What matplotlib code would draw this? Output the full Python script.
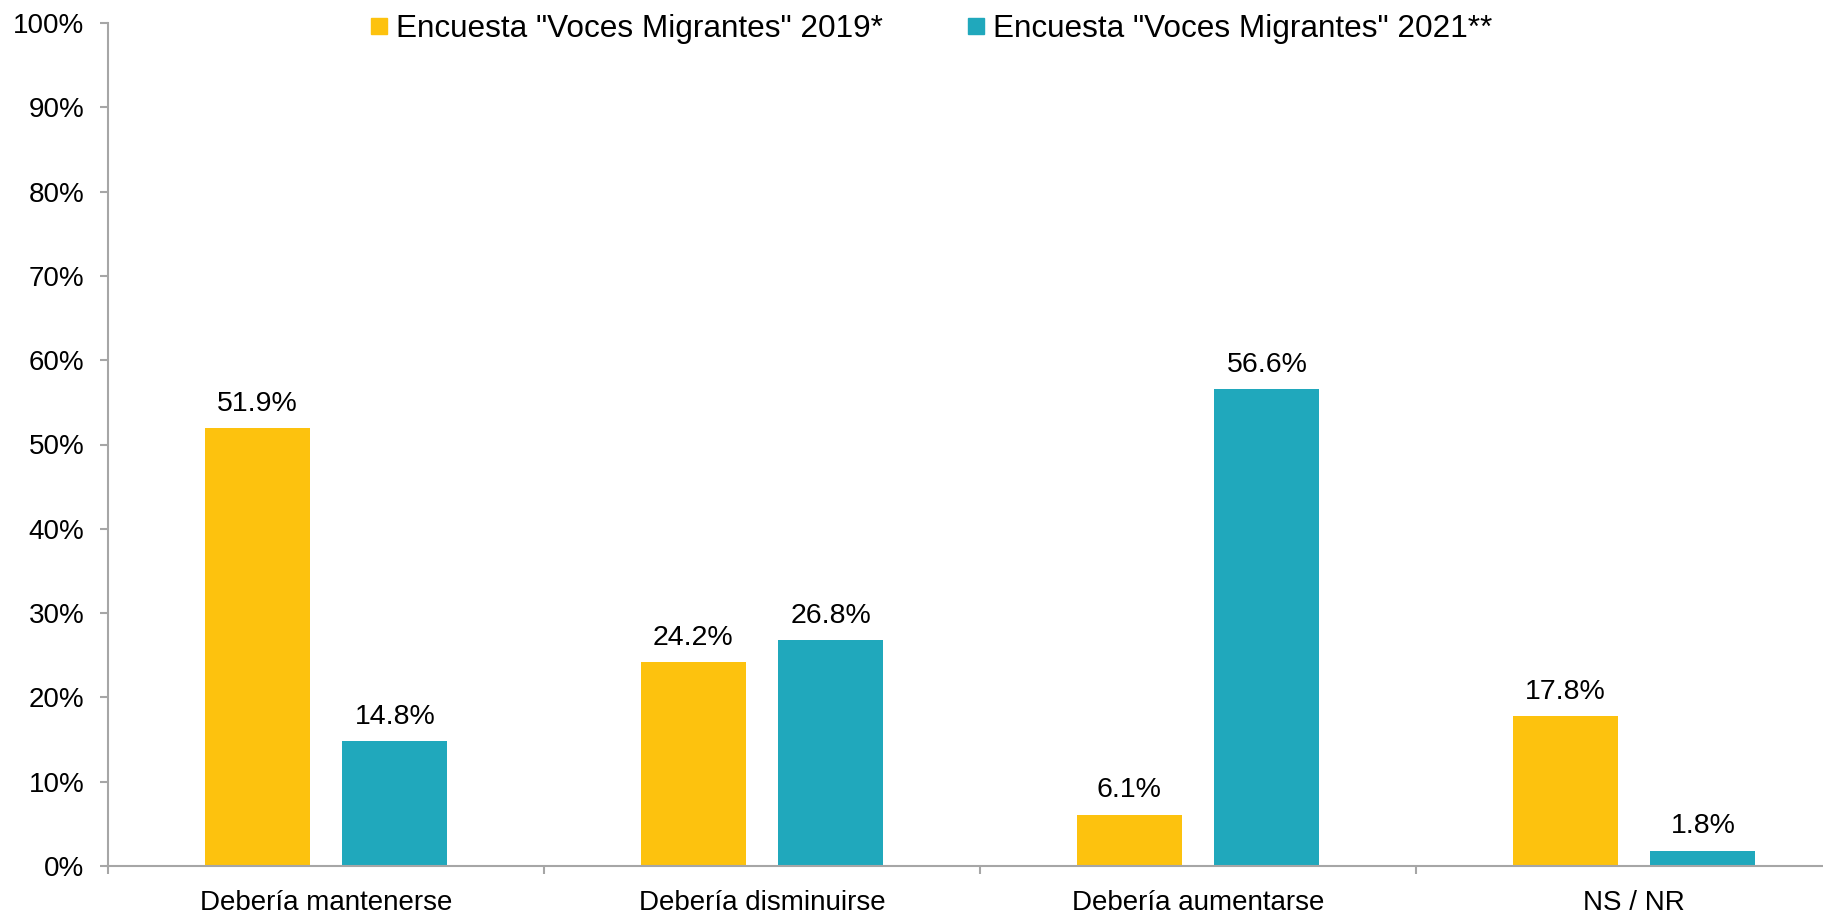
import matplotlib
matplotlib.use("Agg")
import matplotlib.pyplot as plt
from matplotlib.lines import Line2D
import numpy as np

plt.rcParams['font.family'] = ['Liberation Sans', 'DejaVu Sans']

categories = ["Debería mantenerse", "Debería disminuirse", "Debería aumentarse", "NS / NR"]
series_names = ['Encuesta "Voces Migrantes" 2019*', 'Encuesta "Voces Migrantes" 2021**']
values_2019 = [51.9, 24.2, 6.1, 17.8]
values_2021 = [14.8, 26.8, 56.6, 1.8]
colors = ["#FDC20E", "#20A8BC"]
yticks = list(range(0, 101, 10))

W, H = 1824, 915
fig = plt.figure(figsize=(W / 100, H / 100), dpi=100)
left_px, right_px, bottom_px, top_px = 108, 1852, 866, 23
ax = fig.add_axes([left_px / W, (H - bottom_px) / H, (right_px - left_px) / W, (bottom_px - top_px) / H])

x = np.arange(len(categories))
bw = 0.241
off = 0.158
for vals, c, o in [(values_2019, colors[0], -off), (values_2021, colors[1], off)]:
    bars = ax.bar(x + o, vals, width=bw, color=c, zorder=2)
    for b, v in zip(bars, vals):
        ax.annotate(f"{v:.1f}%", (b.get_x() + b.get_width() / 2, v), xytext=(0, 12.5),
                    textcoords="offset points", ha="center", va="baseline", fontsize=20.5)

ax.set_xlim(-0.5, 3.5)
ax.set_ylim(0, 100)
ax.set_yticks(yticks)
ax.set_yticklabels([f"{t}%" for t in yticks])
ax.set_xticks(np.arange(-0.5, 4.0, 1.0), minor=False)
ax.set_xticklabels([])
ax.set_xticks(x, minor=True)
ax.set_xticklabels(categories, minor=True)

gray = "#A6A6A6"
for s in ["top", "right"]:
    ax.spines[s].set_visible(False)
for s in ["left", "bottom"]:
    ax.spines[s].set_color(gray)
    ax.spines[s].set_linewidth(1.5)
ax.tick_params(axis="y", which="major", length=6, width=1.5, color=gray, labelsize=20, pad=11, direction="out")
ax.tick_params(axis="x", which="major", length=6, width=1.5, color=gray, direction="out")
ax.tick_params(axis="x", which="minor", length=0, labelsize=20, pad=17)

handles = [Line2D([], [], marker="s", linestyle="none", markersize=12, markerfacecolor=c, markeredgecolor=c)
           for c in colors]
fig.legend(handles, series_names, loc="center", bbox_to_anchor=(0.5105, 1 - 29.5 / H), ncol=2,
           frameon=False, fontsize=22.7, handletextpad=0.26, columnspacing=2.7, handlelength=0.55,
           borderpad=0, borderaxespad=0)

fig.savefig("out.png", dpi=100)
